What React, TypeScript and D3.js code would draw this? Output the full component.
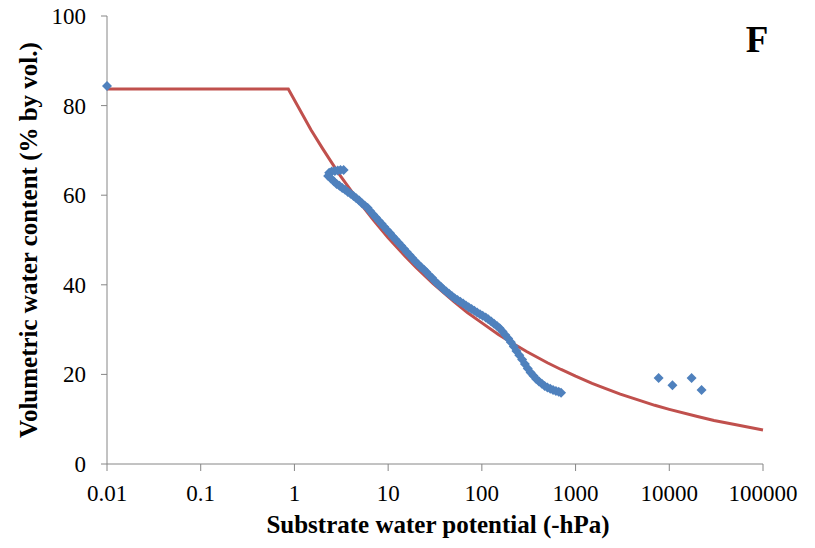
import React from "react";
import * as d3 from "d3";

// fitted curve: [-hPa, % by vol.]
const fitted: [number, number][] = [
  [0.01, 83.7], [0.86, 83.7], [1.5, 74.6], [2, 70.4], [3, 64.7], [5, 58.3],
  [7, 54.4], [10, 50.5], [15, 46.5], [20, 43.8], [30, 40.3], [50, 36.3],
  [70, 33.8], [100, 31.5], [150, 28.9], [200, 27.3], [300, 25.1], [500, 22.6],
  [700, 21.1], [1000, 19.6], [1500, 18.0], [2000, 17.0], [3000, 15.6],
  [5000, 14.1], [7000, 13.1], [10000, 12.2], [20000, 10.6], [30000, 9.7],
  [50000, 8.8], [100000, 7.6],
];

// measured points
const measured: [number, number][] = [
  [0.01, 84.4],
  [2.35, 65.0], [2.5, 65.3], [2.7, 65.4], [2.9, 65.5], [3.1, 65.6], [3.35, 65.6],
  [2.29, 64.3], [2.45, 63.7], [2.63, 63.1], [2.82, 62.5], [3.02, 62.1], [3.24, 61.6],
  [3.47, 61.2], [3.72, 60.7], [3.98, 60.3], [4.27, 59.8], [4.57, 59.3], [4.9, 58.8],
  [5.25, 58.2], [5.62, 57.7], [6.03, 57.2], [6.46, 56.4], [6.92, 55.7], [7.41, 55.0],
  [7.94, 54.3], [8.51, 53.6], [9.12, 52.9], [9.77, 52.2], [10.5, 51.5], [11.2, 50.8],
  [12.0, 50.1], [12.9, 49.4], [13.8, 48.7], [14.8, 48.0], [15.8, 47.3], [17.0, 46.6],
  [18.2, 45.9], [19.5, 45.2], [20.9, 44.6], [22.4, 44.0], [24.0, 43.4], [25.7, 42.8],
  [27.5, 42.1], [29.5, 41.5], [31.6, 40.8], [33.9, 40.2], [36.3, 39.6], [38.9, 39.0],
  [41.7, 38.5], [44.7, 38.0], [47.9, 37.5], [51.3, 37.0], [55.0, 36.6], [58.9, 36.2],
  [63.1, 35.8], [67.6, 35.4], [72.4, 35.0], [77.6, 34.6], [83.2, 34.2], [89.1, 33.8],
  [95.5, 33.4], [102, 33.1], [110, 32.7], [117, 32.3], [126, 31.8], [135, 31.3],
  [145, 30.8], [155, 30.3], [166, 29.6], [178, 28.8], [191, 28.0], [204, 27.2],
  [219, 26.2], [234, 25.2], [251, 24.3], [269, 23.3], [288, 22.3], [309, 21.3],
  [331, 20.4], [355, 19.7], [380, 19.0], [407, 18.4], [437, 17.9], [468, 17.4],
  [501, 17.1], [537, 16.8], [575, 16.5], [617, 16.3], [661, 16.1], [700, 15.9],
  [7700, 19.2], [10800, 17.6], [17300, 19.2], [22100, 16.5],
];

const xTicks = [0.01, 0.1, 1, 10, 100, 1000, 10000, 100000];
const yTicks = [0, 20, 40, 60, 80, 100];

const W = 815;
const H = 548;
const serif = "'Liberation Serif', 'Times New Roman', serif";

export default function App() {
  const x = d3.scaleLog().domain([0.01, 100000]).range([107, 763]);
  const y = d3.scaleLinear().domain([0, 100]).range([464, 16]);
  const line = d3
    .line<[number, number]>()
    .x(d => x(d[0]))
    .y(d => y(d[1]));
  const r = 5;
  const diamond = `M0,${-r}L${r},0L0,${r}L${-r},0Z`;
  const axisColor = "#868686";

  return (
    <svg
      width={W}
      height={H}
      style={{ position: "absolute", left: 0, top: 0, background: "#fff" }}
      fontFamily={serif}
    >
      {/* axes */}
      <line x1={107} x2={107} y1={y(100)} y2={y(0)} stroke={axisColor} />
      <line x1={107} x2={763} y1={y(0)} y2={y(0)} stroke={axisColor} />
      {yTicks.map(t => (
        <g key={t}>
          <line x1={101} x2={107} y1={y(t)} y2={y(t)} stroke={axisColor} />
          <text x={86} y={y(t)} dy="0.35em" textAnchor="end" fontSize={23}>
            {t}
          </text>
        </g>
      ))}
      {xTicks.map(t => (
        <g key={t}>
          <line x1={x(t)} x2={x(t)} y1={y(0)} y2={y(0) + 7} stroke={axisColor} />
          <text x={x(t)} y={501} textAnchor="middle" fontSize={23}>
            {String(t)}
          </text>
        </g>
      ))}

      {/* fitted curve */}
      <path d={line(fitted) ?? ""} fill="none" stroke="#C0504D" strokeWidth={3} />

      {/* measured */}
      {measured.map((d, i) => (
        <path
          key={i}
          d={diamond}
          transform={`translate(${x(d[0])},${y(d[1])})`}
          fill="#4F81BD"
        />
      ))}

      {/* titles */}
      <text x={438} y={533} textAnchor="middle" fontSize={25} fontWeight="bold">
        Substrate water potential (-hPa)
      </text>
      <text
        transform={`translate(37,${(y(0) + y(100)) / 2}) rotate(-90)`}
        textAnchor="middle"
        fontSize={25}
        fontWeight="bold"
      >
        Volumetric water content (% by vol.)
      </text>
      <text x={757} y={52} textAnchor="middle" fontSize={37} fontWeight="bold">
        F
      </text>
    </svg>
  );
}
